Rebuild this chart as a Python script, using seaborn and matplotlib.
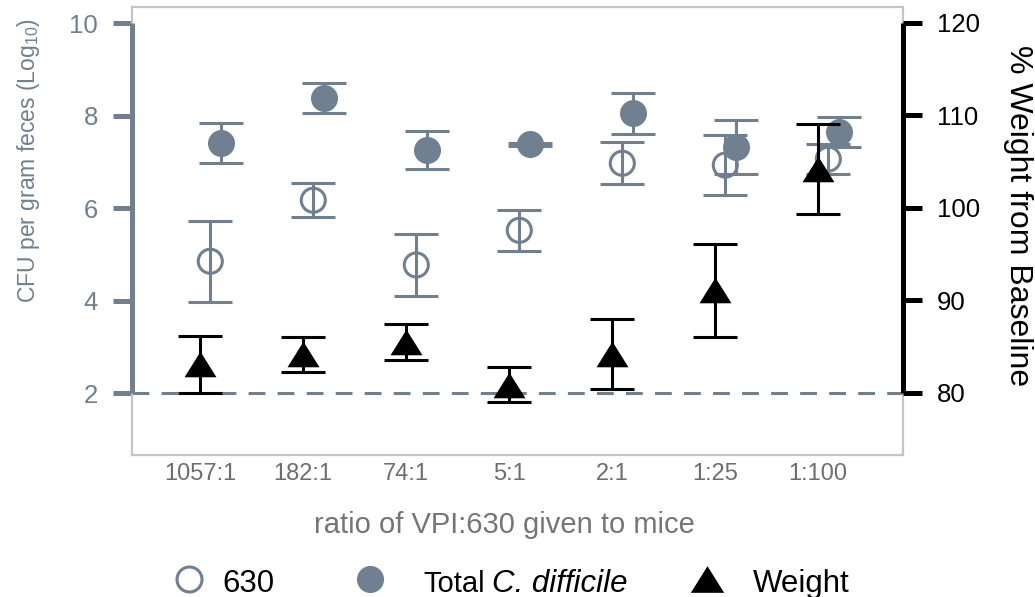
import numpy as np
import pandas as pd
import matplotlib
matplotlib.use("Agg")
import matplotlib.pyplot as plt
import matplotlib.transforms as mtransforms
from matplotlib.lines import Line2D
import seaborn as sns

# ---- data -------------------------------------------------------------
ratios = ["1057:1", "182:1", "74:1", "5:1", "2:1", "1:25", "1:100"]

cfu_630 = [4.85, 6.17, 4.77, 5.52, 6.97, 6.93, 7.06]
cfu_630_sem = [0.87, 0.37, 0.67, 0.44, 0.45, 0.65, 0.32]

cfu_total = [7.41, 8.38, 7.25, 7.38, 8.05, 7.32, 7.64]
cfu_total_sem = [0.43, 0.33, 0.41, 0.03, 0.45, 0.58, 0.32]

weight_pct = [83.1, 84.2, 85.5, 80.9, 84.2, 91.1, 104.2]
weight_sem = [3.1, 1.9, 1.9, 1.9, 3.8, 5.0, 4.9]

left_ticks = [2, 4, 6, 8, 10]
right_ticks = [80, 90, 100, 110, 120]

# ---- style ------------------------------------------------------------
sns.set_theme(style="white")
plt.rcParams["font.family"] = ["Liberation Sans", "DejaVu Sans"]
plt.rcParams["mathtext.fontset"] = "custom"
plt.rcParams["mathtext.rm"] = "Liberation Sans"
plt.rcParams["mathtext.it"] = "Liberation Sans:italic"

SLATE = "#708090"
FRAME = "#c4c4c4"
GREY_TXT = "#6e6e6e"

pos = np.arange(len(ratios))
df = pd.DataFrame({
    "ratio": ratios,
    "x_weight": pos + 0.0,
    "x_630": pos + 0.1,
    "x_total": pos + 0.2,
    "cfu_630": cfu_630,
    "cfu_630_sem": cfu_630_sem,
    "cfu_total": cfu_total,
    "cfu_total_sem": cfu_total_sem,
    "weight": weight_pct,
    "weight_sem": weight_sem,
})

W, H = 1035, 597
fig = plt.figure(figsize=(W / 100, H / 100), dpi=100)
ax = fig.add_axes([132 / W, 1 - 455 / H, (903 - 132) / W, (455 - 7) / H])
ax2 = ax.twinx()

ax.set_xlim(-0.66, 6.825)
ax.set_ylim(0.66, 10.35)
ax2.set_ylim(73.3, 121.7)

# frame
for s in ax.spines.values():
    s.set_color(FRAME)
    s.set_linewidth(1.6)
for s in ax2.spines.values():
    s.set_visible(False)

cap = 15.5
lw = 2.2

# CFU error bars
ax.errorbar(df["x_630"], df["cfu_630"], yerr=df["cfu_630_sem"], fmt="none",
            ecolor=SLATE, elinewidth=lw, capsize=cap, capthick=lw, zorder=3)
ax.errorbar(df["x_total"], df["cfu_total"], yerr=df["cfu_total_sem"], fmt="none",
            ecolor=SLATE, elinewidth=lw, capsize=cap, capthick=lw, zorder=3)

# CFU markers
sns.scatterplot(data=df, x="x_630", y="cfu_630", ax=ax, marker="o", s=300,
                facecolor="none", edgecolor=SLATE, linewidth=2.2, zorder=4,
                legend=False)
sns.scatterplot(data=df, x="x_total", y="cfu_total", ax=ax, marker="o", s=378,
                color=SLATE, linewidth=0, zorder=5, legend=False)

# limit of detection / baseline
ax.axhline(2, color=SLATE, lw=2.2, ls=(0, (5.5, 4)), zorder=2)

# weight
tri = [(-1, -0.8), (1, -0.8), (0, 0.8)]
ax2.errorbar(df["x_weight"], df["weight"], yerr=df["weight_sem"], fmt="none",
             ecolor="black", elinewidth=lw, capsize=cap, capthick=lw, zorder=3)
sns.scatterplot(data=df, x="x_weight", y="weight", ax=ax2, marker=tri, s=530,
                color="black", linewidth=0, zorder=4, legend=False)

# bounded y axis lines
tl = mtransforms.blended_transform_factory(ax.transAxes, ax.transData)
ax.plot([0, 0], [2, 10], transform=tl, color=SLATE, lw=3.6, clip_on=False,
        solid_capstyle="butt", zorder=6)
tr = mtransforms.blended_transform_factory(ax2.transAxes, ax2.transData)
ax2.plot([1, 1], [80, 120], transform=tr, color="black", lw=3.6, clip_on=False,
         solid_capstyle="butt", zorder=6)

# ticks
ax.set_xticks(pos)
ax.set_xticklabels(ratios)
ax.tick_params(axis="x", length=0, pad=6, labelsize=17, labelcolor=GREY_TXT)
ax.set_yticks(left_ticks)
ax.set_yticklabels([str(t) for t in left_ticks])
ax.tick_params(axis="y", left=True, length=13.5, width=3.6, color=SLATE,
               pad=11, labelsize=18.5, labelcolor=SLATE)
ax2.set_yticks(right_ticks)
ax2.set_yticklabels([str(t) for t in right_ticks])
ax2.tick_params(axis="y", right=True, length=13.5, width=3.6, color="black",
                pad=11, labelsize=18.5, labelcolor="black")

ax.set_xlabel("")
ax.set_ylabel("")
ax2.set_xlabel("")
ax2.set_ylabel("")

# axis titles
fig.text(504 / W, 1 - 525 / H, "ratio of VPI:630 given to mice", ha="center",
         va="center", fontsize=21, color="#757575")
fig.text(29 / W, 1 - 161 / H, r"CFU per gram feces (Log$_{10}$)", ha="center",
         va="center", rotation=90, fontsize=16.5, color=SLATE)
fig.text(1018 / W, 1 - 216 / H, "% Weight from Baseline", ha="center",
         va="center", rotation=270, fontsize=23, color="black")

# legend row
ly = 1 - 579 / H
base = 1 - 592 / H
fig.add_artist(Line2D([189 / W], [ly], transform=fig.transFigure, marker="o",
                      markersize=18, markerfacecolor="none",
                      markeredgecolor=SLATE, markeredgewidth=2.2, ls="none"))
fig.text(222 / W, base, "630", ha="left", va="baseline", fontsize=22.5,
         color="black")
fig.add_artist(Line2D([370 / W], [ly], transform=fig.transFigure, marker="o",
                      markersize=19.5, markerfacecolor=SLATE,
                      markeredgewidth=0, ls="none"))
fig.text(423 / W, base, "Total", ha="left", va="baseline", fontsize=21,
         color="black")
fig.text(492 / W, base, "C. difficile", ha="left", va="baseline",
         fontsize=22.5, style="italic", color="black")
fig.add_artist(Line2D([707 / W], [ly], transform=fig.transFigure, marker=tri,
                      markersize=24, markerfacecolor="black",
                      markeredgewidth=0, ls="none"))
fig.text(753 / W, base, "Weight", ha="left", va="baseline", fontsize=22.5,
         color="black")

fig.savefig("out.png", dpi=100)
